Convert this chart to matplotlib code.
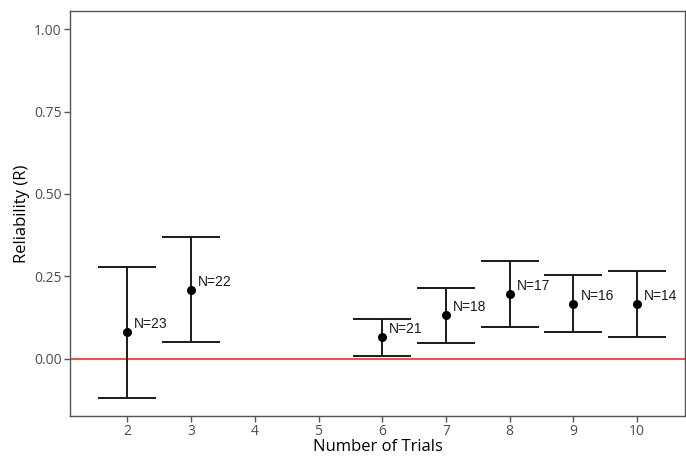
import matplotlib.pyplot as plt

trials = [2, 3, 6, 7, 8, 9, 10]
rel = [0.081, 0.209, 0.065, 0.132, 0.197, 0.167, 0.167]
lower = [-0.118, 0.051, 0.008, 0.048, 0.097, 0.080, 0.067]
upper = [0.280, 0.370, 0.122, 0.216, 0.296, 0.255, 0.266]
n_labels = ["N=23", "N=22", "N=21", "N=18", "N=17", "N=16", "N=14"]

fig = plt.figure(figsize=(6.86, 4.57), dpi=100)
ax = fig.add_axes([0.102, 0.09, 0.8965, 0.886])

ax.axhline(0, color="#ff2a1a", lw=1.2, zorder=1)

yerr = [[r - lo for r, lo in zip(rel, lower)], [up - r for r, up in zip(rel, upper)]]
ax.errorbar(trials, rel, yerr=yerr, fmt="none", ecolor="#1a1a1a", elinewidth=1.4,
            capsize=21, capthick=1.4, zorder=2)
ax.scatter(trials, rel, s=30, color="black", zorder=3)

for x, y, lab in zip(trials, rel, n_labels):
    ax.text(x + 0.11, y + 0.025, lab, fontsize=10, family="Liberation Sans",
            ha="left", va="center", color="#1a1a1a")

ax.set_xlim(1.1, 10.75)
ax.set_ylim(-0.173, 1.055)
ax.set_xticks(range(2, 11))
ax.set_yticks([0, 0.25, 0.5, 0.75, 1.0])
ax.set_yticklabels(["0.00", "0.25", "0.50", "0.75", "1.00"])

for s in ax.spines.values():
    s.set_color("#555555")
    s.set_linewidth(1.0)
ax.tick_params(colors="#555555", labelcolor="#4d4d4d", length=4, width=1,
               labelsize=10, pad=2)
for t in ax.get_xticklabels() + ax.get_yticklabels():
    t.set_family("Open Sans")

ax.set_xlabel("Number of Trials", fontsize=12, family="Open Sans", labelpad=0)
ax.set_ylabel("Reliability (R)", fontsize=12, family="Open Sans", labelpad=3)

fig.savefig("out.png", dpi=100)
